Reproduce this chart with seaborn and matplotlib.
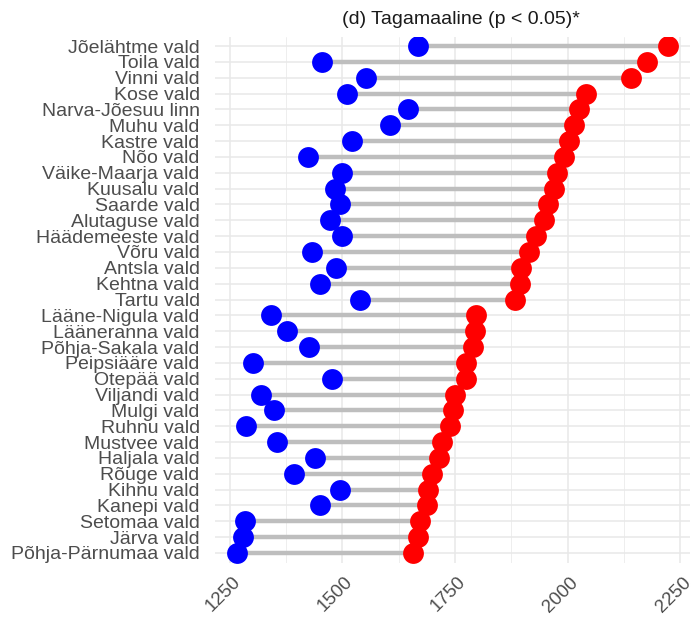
import numpy as np
import pandas as pd
import matplotlib
matplotlib.use("Agg")
import matplotlib.pyplot as plt
import matplotlib.transforms as mtransforms
import seaborn as sns

names = ["Jõelähtme vald", "Toila vald", "Vinni vald", "Kose vald", "Narva-Jõesuu linn",
         "Muhu vald", "Kastre vald", "Nõo vald", "Väike-Maarja vald", "Kuusalu vald",
         "Saarde vald", "Alutaguse vald", "Häädemeeste vald", "Võru vald", "Antsla vald",
         "Kehtna vald", "Tartu vald", "Lääne-Nigula vald", "Lääneranna vald", "Põhja-Sakala vald",
         "Peipsiääre vald", "Otepää vald", "Viljandi vald", "Mulgi vald", "Ruhnu vald",
         "Mustvee vald", "Haljala vald", "Rõuge vald", "Kihnu vald", "Kanepi vald",
         "Setomaa vald", "Järva vald", "Põhja-Pärnumaa vald"]
blue_vals = [1667, 1455, 1552, 1510, 1645, 1606, 1521, 1423, 1499, 1483,
             1494, 1473, 1499, 1433, 1485, 1450, 1539, 1341, 1376, 1426,
             1302, 1477, 1319, 1349, 1286, 1355, 1439, 1392, 1494, 1450,
             1284, 1280, 1265]
red_vals = [2224, 2177, 2140, 2040, 2026, 2014, 2004, 1993, 1977, 1971,
            1957, 1948, 1931, 1915, 1897, 1894, 1883, 1797, 1795, 1790,
            1775, 1774, 1750, 1746, 1738, 1722, 1714, 1700, 1691, 1687,
            1672, 1668, 1657]
x_ticks = [1250, 1500, 1750, 2000, 2250]
title = "(d) Tagamaaline (p < 0.05)*"

df = pd.DataFrame({"name": names, "low": blue_vals, "high": red_vals})

sns.set_theme(style="whitegrid")
plt.rcParams["font.family"] = ["Liberation Sans", "DejaVu Sans"]

fig = plt.figure(figsize=(6.98, 6.17), dpi=100)
ax = fig.add_axes([215 / 698, 1 - 562.5 / 617, (690 - 215) / 698, (562.5 - 36.5) / 617])

pos = np.arange(len(df))
ax.hlines(pos, df["low"], df["high"], color="#bebebe", linewidth=3.2, zorder=2)
sns.stripplot(data=df, x="low", y="name", order=names, jitter=False, size=15,
              color="#0000ff", linewidth=0, ax=ax, zorder=3)
sns.stripplot(data=df, x="high", y="name", order=names, jitter=False, size=15,
              color="#ff0000", linewidth=0, ax=ax, zorder=4)

ax.set_xticks(x_ticks)
ax.set_xticks([x_ticks[0] - 125] + [v + 125 for v in x_ticks], minor=True)
lo = min(blue_vals); hi = max(red_vals); ext = (hi - lo) * 0.05
ax.set_xlim(lo - ext, hi + ext)
ax.set_ylim(len(df) - 1 + 0.6, -0.6)
ax.set_xlabel("")
ax.set_ylabel("")

ax.set_facecolor("white")
for s in ax.spines.values():
    s.set_visible(False)
ax.grid(True, which="major", axis="both", color="#e8e8e8", linewidth=1.1, zorder=0)
ax.grid(True, which="minor", axis="x", color="#ebebeb", linewidth=0.6, zorder=0)
ax.set_axisbelow(True)

ax.tick_params(axis="y", length=0, pad=11, labelsize=14, labelcolor="#4d4d4d")
ax.tick_params(axis="x", which="both", length=0, pad=8, labelsize=13.5, labelcolor="#4d4d4d")
for lab in ax.get_xticklabels():
    lab.set_rotation(45)
    lab.set_ha("right")
    lab.set_va("top")
    lab.set_rotation_mode("anchor")
    lab.set_transform(lab.get_transform() + mtransforms.ScaledTranslation(2 / 100, 0, fig.dpi_scale_trans))

fig.text(461 / 698, 1 - 20 / 617, title, ha="center", va="center", fontsize=14, color="#1a1a1a")

fig.savefig("out.png", dpi=100, facecolor="white")
